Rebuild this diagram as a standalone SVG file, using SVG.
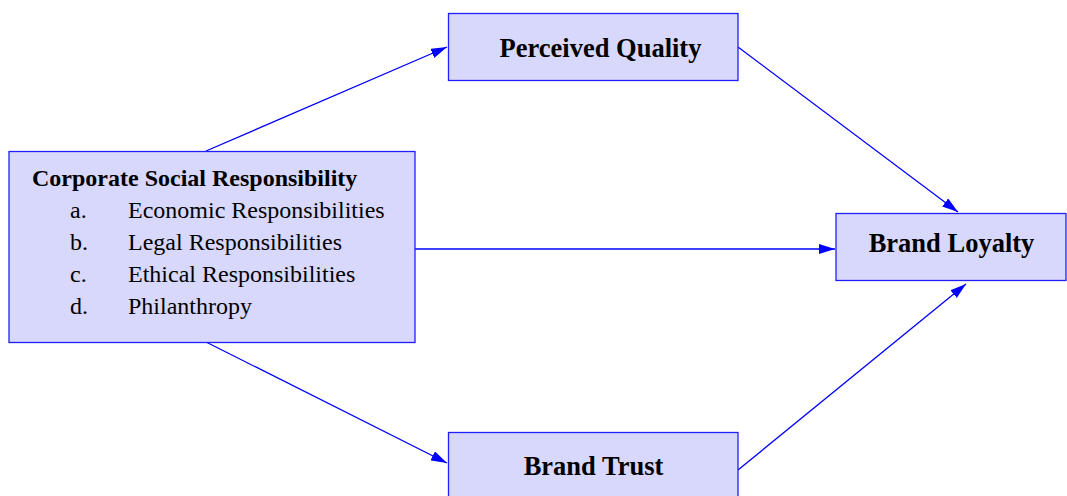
<svg xmlns="http://www.w3.org/2000/svg" width="1067" height="496" viewBox="0 0 1067 496">
  <style>
    .box { fill: #d8d8fc; stroke: #2020ff; stroke-width: 1.3; }
    .title { font-family: "Liberation Serif", "Times New Roman", serif; font-weight: bold; fill: #000; }
    .item { font-family: "Liberation Serif", "Times New Roman", serif; font-size: 24px; fill: #000; }
    .edge { stroke: #0000ff; stroke-width: 1.3; fill: none; marker-end: url(#arrow); }
  </style>
  <defs>
    <marker id="arrow" viewBox="0 0 16 10" refX="16" refY="5" markerWidth="16" markerHeight="10" markerUnits="userSpaceOnUse" orient="auto">
      <path d="M0,0 L16,5 L0,10 Z" fill="#0000ff"/>
    </marker>
  </defs>
  <rect width="1067" height="496" fill="#ffffff"/>

  <g id="connectors">
    <line class="edge" x1="206" y1="151" x2="447" y2="47"/>
    <line class="edge" x1="738" y1="47" x2="958" y2="212"/>
    <line class="edge" x1="415" y1="249" x2="835" y2="249"/>
    <line class="edge" x1="206" y1="342" x2="447" y2="463"/>
    <line class="edge" x1="738" y1="470" x2="966" y2="284"/>
  </g>

  <g id="csr">
    <rect class="box" x="9" y="151.5" width="406" height="191"/>
    <text class="title" x="32" y="186" font-size="24">Corporate Social Responsibility</text>
    <text class="item" x="70" y="218">a.</text>
    <text class="item" x="128" y="218">Economic Responsibilities</text>
    <text class="item" x="70" y="250">b.</text>
    <text class="item" x="128" y="250">Legal Responsibilities</text>
    <text class="item" x="70" y="282">c.</text>
    <text class="item" x="128" y="282">Ethical Responsibilities</text>
    <text class="item" x="70" y="314">d.</text>
    <text class="item" x="128" y="314">Philanthropy</text>
  </g>

  <g id="perceived-quality">
    <rect class="box" x="448.5" y="13.5" width="289.5" height="67"/>
    <text class="title" x="600.5" y="57" font-size="26.5" text-anchor="middle">Perceived Quality</text>
  </g>

  <g id="brand-loyalty">
    <rect class="box" x="836" y="213.5" width="230" height="67"/>
    <text class="title" x="951.5" y="252" font-size="26.5" text-anchor="middle">Brand Loyalty</text>
  </g>

  <g id="brand-trust">
    <rect class="box" x="448.5" y="432.5" width="289.5" height="67"/>
    <text class="title" x="593.5" y="475" font-size="26.5" text-anchor="middle">Brand Trust</text>
  </g>
</svg>
